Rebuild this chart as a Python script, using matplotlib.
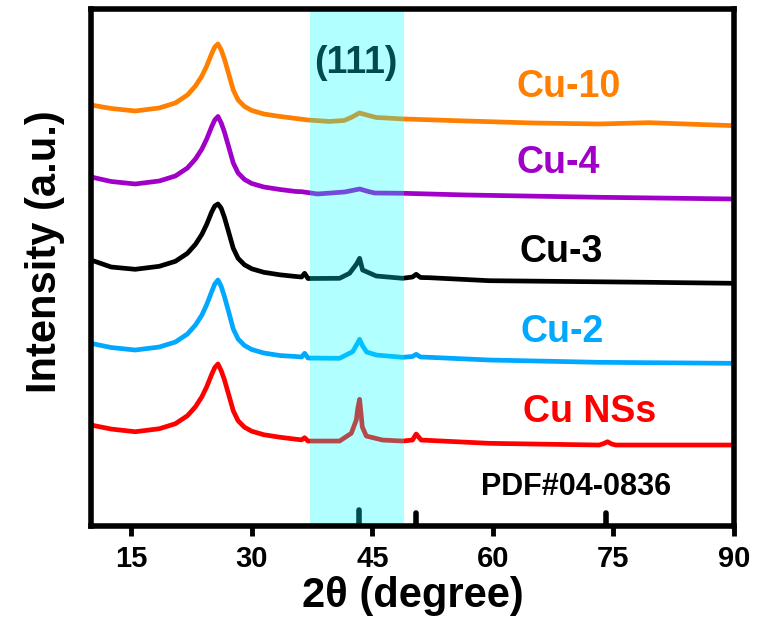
import matplotlib
matplotlib.use("Agg")
import matplotlib.pyplot as plt

plt.rcParams['font.family'] = ['Liberation Sans', 'DejaVu Sans']
plt.rcParams['font.weight'] = 'bold'

# XRD patterns, values (stacking offset already included)
# common sampling of the broad carbon peak region (10-35.5 deg)
x_broad = [10.0, 12.5, 15.5, 18.5, 20.5, 22.0, 23.0, 23.8, 24.4, 25.0, 25.4, 25.8,
           26.2, 26.6, 27.1, 27.7, 28.3, 29.1, 30.0, 31.5, 33.5, 35.5]

x_cu10 = x_broad + [36.96, 39.69, 41.5, 42.5, 43.4, 44.3, 45.5, 48.88, 56.67, 64.91,
                    73.23, 79.44, 85.65, 90.0]
y_cu10 = [421, 417.5, 415, 418, 423, 431, 440, 450, 460, 472, 479, 482,
          476, 467, 453, 436, 426, 419.5, 415.5, 412, 409.5, 407.5,
          406, 404.5, 405.5, 409, 413, 411, 408.5, 407, 405, 403,
          402, 403.3, 401.5, 400.3]

x_cu4 = x_broad + [36.21, 38.2, 41.55, 42.5, 43.42, 44.5, 45.28, 48.88, 56.67, 73.23, 90.0]
y_cu4 = [349, 344.5, 342, 345, 350, 358, 367, 377, 387, 399, 406, 409.5,
         403, 394, 380, 363, 353, 346.5, 342.5, 339, 336.5, 334.5,
         334.3, 332, 334, 335.5, 337, 334.5, 333, 332.7, 331, 328.7, 327]

x_cu3 = x_broad + [36.2, 36.58, 37.0, 40.93, 42.17, 43.04, 43.42, 43.79, 45.49, 48.76,
                   50.0, 50.46, 51.0, 52.11, 59.57, 79.44, 90.0]
y_cu3 = [266, 259, 256.7, 259.7, 264.7, 272.7, 281.7, 291.7, 301.7, 313.7, 320, 322,
         317.7, 308.7, 294.7, 277.7, 267.7, 261.2, 257.2, 253.7, 251.2, 249.5,
         249, 252.7, 247.5, 247.7, 252.7, 262, 267.7, 256, 250, 247.7,
         249, 251.7, 248.5, 248.3, 245.3, 243.7, 242.7]

x_cu2 = x_broad + [36.2, 36.58, 37.0, 40.93, 42.55, 43.04, 43.42, 43.8, 44.3, 45.49,
                   48.76, 50.0, 50.46, 51.0, 52.11, 59.57, 73.23, 90.0]
y_cu2 = [182.7, 178.5, 176, 179, 184, 192, 201, 211, 221.5, 234, 242, 246,
         239.5, 229.5, 215, 197, 187, 180.5, 176.5, 173, 170.5, 169.5,
         169, 172.7, 168, 167.7, 174.3, 181, 186.7, 180, 174, 171,
         168.7, 169.5, 171.7, 169, 168.7, 166, 163.7, 162.7]

x_cuns = x_broad + [36.2, 36.58, 37.0, 40.93, 42.38, 43.01, 43.2, 43.42, 43.6, 43.75,
                    44.25, 46.27, 48.76, 50.0, 50.46, 51.08, 59.57, 73.23, 73.8, 74.26,
                    74.8, 75.3, 90.0]
y_cuns = [101, 97, 94.3, 97.3, 102.3, 110.3, 119.3, 129.3, 139.3, 151.3, 158.5, 162,
          155.3, 146.3, 132.3, 115.3, 105.3, 98.8, 94.8, 91.3, 88.8, 86.8,
          86.2, 88.3, 85, 85, 92.7, 106, 118, 126.7, 112, 99.3,
          90, 86, 85, 86, 92, 86, 82.7, 81, 82.5, 84.3,
          82, 81, 81]

# standard card PDF#04-0836
pdf_pos = [43.3, 50.4, 74.1]
pdf_int = [16, 13.5, 13]

series = [
    (x_cu10, y_cu10, '#FF8000', 'Cu-10', 63.0, 429.3),
    (x_cu4, y_cu4, '#A100C8', 'Cu-4', 63.0, 352.7),
    (x_cu3, y_cu3, 'black', 'Cu-3', 63.3, 264.3),
    (x_cu2, y_cu2, '#00A8FF', 'Cu-2', 63.4, 184.3),
    (x_cuns, y_cuns, '#FF0000', 'Cu NSs', 63.8, 104.3),
]

fig = plt.figure(figsize=(7.57, 6.3), dpi=100)
ax = fig.add_axes([0.1202, 0.165, 0.8494, 0.820])

for xs, ys, col, lab, tx, ty in series:
    ax.plot(xs, ys, color=col, lw=3.4, solid_joinstyle='round', zorder=2)
    ax.text(tx, ty, lab, color=col, fontsize=27, fontweight='bold', ha='left', va='baseline')

ax.vlines(pdf_pos, 0, pdf_int, color='black', lw=4, capstyle='round', zorder=2)
ax.text(58.5, 31, 'PDF#04-0836', fontsize=22, fontweight='bold', ha='left', va='baseline')
ax.text(43.0, 452.7, '(111)', fontsize=27, fontweight='bold', ha='center', va='baseline', zorder=3)

ax.axvspan(37.25, 48.9, color='#00FFFF', alpha=0.3, lw=0, zorder=5)

ax.set_xlim(10, 90)
ax.set_ylim(0, 516.5)
ax.set_xticks([15, 30, 45, 60, 75, 90])
ax.set_yticks([])
ax.tick_params(axis='x', direction='out', length=7, width=3.5, labelsize=21, pad=7)
for t in ax.get_xticklabels():
    t.set_fontweight('bold')
for s in ax.spines.values():
    s.set_linewidth(4)
    s.set_zorder(10)

ax.set_xlabel('2θ (degree)', fontsize=30, fontweight='bold', labelpad=2)
ax.set_ylabel('Intensity (a.u.)', fontsize=30, fontweight='bold')
ax.yaxis.set_label_coords(-0.04, 0.532)

fig.savefig('out.png', dpi=100)
